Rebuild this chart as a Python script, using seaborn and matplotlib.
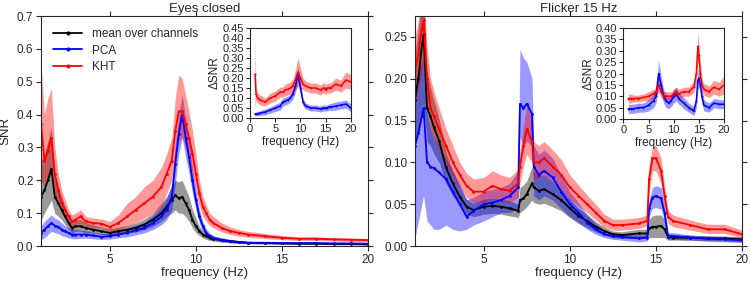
import numpy as np
import pandas as pd
import seaborn as sns
import matplotlib.pyplot as plt

# ---- Eyes closed: main panel ----
freq_ec = [1.0, 1.2, 1.4, 1.6, 1.8, 2.0, 2.2, 2.4, 2.6, 2.8, 3.0, 3.3, 3.6, 4.0, 4.5, 5.0, 5.5, 6.0,
           6.5, 7.0, 7.5, 8.0, 8.3, 8.6, 8.8, 9.0, 9.2, 9.4, 9.6, 9.8, 10.0, 10.2, 10.4, 10.6, 10.8,
           11.0, 11.5, 12.0, 12.5, 13.0, 14.0, 15.0, 16.0, 17.0, 18.0, 19.0, 20.0]
mean_ec = [0.15, 0.17, 0.2, 0.235, 0.15, 0.13, 0.11, 0.09, 0.07, 0.055, 0.06, 0.06, 0.055, 0.05, 0.045,
           0.04, 0.045, 0.05, 0.055, 0.065, 0.08, 0.1, 0.12, 0.14, 0.155, 0.145, 0.15, 0.13, 0.11, 0.08,
           0.06, 0.045, 0.035, 0.03, 0.025, 0.022, 0.018, 0.015, 0.012, 0.01, 0.009, 0.008, 0.007, 0.007,
           0.006, 0.006, 0.005]
mean_ec_lo = [0.08, 0.1, 0.12, 0.14, 0.1, 0.09, 0.08, 0.065, 0.05, 0.04, 0.045, 0.045, 0.04, 0.04, 0.035,
              0.03, 0.035, 0.04, 0.042, 0.05, 0.06, 0.075, 0.09, 0.1, 0.11, 0.1, 0.1, 0.09, 0.075, 0.055,
              0.04, 0.032, 0.025, 0.02, 0.017, 0.015, 0.012, 0.01, 0.008, 0.007, 0.006, 0.005, 0.005,
              0.005, 0.004, 0.004, 0.003]
mean_ec_hi = [0.26, 0.28, 0.32, 0.36, 0.22, 0.18, 0.15, 0.12, 0.095, 0.075, 0.08, 0.08, 0.072, 0.065, 0.058,
              0.052, 0.058, 0.062, 0.07, 0.082, 0.1, 0.13, 0.15, 0.18, 0.2, 0.195, 0.2, 0.175, 0.15, 0.11,
              0.085, 0.06, 0.048, 0.04, 0.035, 0.03, 0.025, 0.02, 0.017, 0.014, 0.012, 0.011, 0.01, 0.01,
              0.009, 0.009, 0.008]
pca_ec = [0.04, 0.05, 0.06, 0.07, 0.062, 0.058, 0.05, 0.045, 0.04, 0.035, 0.035, 0.035, 0.035, 0.032, 0.028,
          0.03, 0.035, 0.04, 0.048, 0.055, 0.07, 0.09, 0.11, 0.15, 0.25, 0.34, 0.4, 0.33, 0.27, 0.2, 0.14,
          0.09, 0.06, 0.04, 0.03, 0.024, 0.018, 0.014, 0.012, 0.01, 0.01, 0.009, 0.009, 0.009, 0.008,
          0.008, 0.007]
pca_ec_lo = [0.02, 0.025, 0.035, 0.045, 0.04, 0.038, 0.032, 0.028, 0.025, 0.022, 0.022, 0.023, 0.024, 0.022,
             0.02, 0.021, 0.025, 0.028, 0.034, 0.04, 0.05, 0.065, 0.08, 0.11, 0.19, 0.28, 0.33, 0.27, 0.22,
             0.16, 0.11, 0.07, 0.045, 0.03, 0.022, 0.018, 0.013, 0.01, 0.008, 0.007, 0.007, 0.006, 0.006,
             0.006, 0.005, 0.005, 0.004]
pca_ec_hi = [0.06, 0.075, 0.085, 0.095, 0.085, 0.08, 0.07, 0.062, 0.055, 0.05, 0.05, 0.048, 0.047, 0.043,
             0.038, 0.04, 0.046, 0.053, 0.064, 0.072, 0.092, 0.12, 0.145, 0.19, 0.31, 0.4, 0.46, 0.39, 0.32,
             0.24, 0.17, 0.11, 0.075, 0.052, 0.04, 0.032, 0.024, 0.019, 0.016, 0.014, 0.013, 0.012, 0.012,
             0.012, 0.011, 0.011, 0.01]
kht_ec = [0.37, 0.26, 0.29, 0.33, 0.22, 0.17, 0.13, 0.11, 0.09, 0.075, 0.08, 0.09, 0.075, 0.07, 0.068, 0.058,
          0.07, 0.09, 0.11, 0.13, 0.15, 0.18, 0.22, 0.26, 0.35, 0.41, 0.41, 0.37, 0.33, 0.28, 0.22, 0.16,
          0.12, 0.1, 0.08, 0.07, 0.055, 0.045, 0.04, 0.035, 0.03, 0.025, 0.022, 0.022, 0.02, 0.019, 0.018]
kht_ec_lo = [0.2, 0.18, 0.2, 0.22, 0.16, 0.13, 0.1, 0.085, 0.07, 0.06, 0.062, 0.07, 0.06, 0.055, 0.055, 0.045,
             0.05, 0.06, 0.07, 0.085, 0.1, 0.12, 0.16, 0.2, 0.27, 0.32, 0.33, 0.3, 0.26, 0.22, 0.17, 0.12,
             0.09, 0.075, 0.062, 0.055, 0.043, 0.035, 0.03, 0.027, 0.023, 0.019, 0.017, 0.017, 0.015,
             0.014, 0.013]
kht_ec_hi = [0.55, 0.4, 0.45, 0.48, 0.3, 0.22, 0.17, 0.14, 0.11, 0.095, 0.1, 0.11, 0.09, 0.085, 0.082, 0.075,
             0.095, 0.13, 0.15, 0.18, 0.2, 0.24, 0.28, 0.33, 0.45, 0.52, 0.51, 0.46, 0.41, 0.35, 0.28, 0.2,
             0.15, 0.125, 0.1, 0.09, 0.07, 0.058, 0.05, 0.045, 0.038, 0.032, 0.028, 0.028, 0.026, 0.025,
             0.023]

# ---- Flicker 15 Hz: main panel ----
freq_fl = [1.0, 1.2, 1.4, 1.5, 1.7, 1.9, 2.1, 2.4, 2.8, 3.2, 3.6, 4.0, 4.4, 5.0, 5.5, 6.0, 6.5, 7.0, 7.1,
           7.3, 7.5, 7.8, 7.9, 8.2, 8.5, 9.0, 9.5, 10.0, 10.5, 11.0, 11.5, 12.0, 12.5, 13.0, 14.0, 14.5,
           14.6, 14.8, 15.0, 15.3, 15.5, 15.7, 16.0, 17.0, 18.0, 19.0, 20.0]
mean_fl = [0.175, 0.2, 0.24, 0.253, 0.165, 0.155, 0.142, 0.126, 0.094, 0.075, 0.059, 0.047, 0.043, 0.047,
           0.048, 0.047, 0.045, 0.042, 0.055, 0.057, 0.062, 0.075, 0.07, 0.066, 0.068, 0.062, 0.055, 0.045,
           0.036, 0.03, 0.023, 0.018, 0.014, 0.013, 0.015, 0.015, 0.021, 0.023, 0.023, 0.024, 0.02, 0.011,
           0.01, 0.01, 0.009, 0.009, 0.008]
mean_fl_lo = [0.12, 0.14, 0.16, 0.17, 0.125, 0.12, 0.11, 0.1, 0.075, 0.06, 0.048, 0.038, 0.035, 0.038,
              0.039, 0.038, 0.036, 0.034, 0.04, 0.043, 0.047, 0.055, 0.052, 0.05, 0.051, 0.047, 0.042,
              0.034, 0.027, 0.022, 0.017, 0.013, 0.01, 0.009, 0.01, 0.01, 0.01, 0.01, 0.01, 0.01, 0.01,
              0.007, 0.007, 0.007, 0.006, 0.006, 0.005]
mean_fl_hi = [0.23, 0.26, 0.3, 0.31, 0.21, 0.19, 0.175, 0.152, 0.113, 0.09, 0.07, 0.056, 0.051, 0.056,
              0.057, 0.056, 0.054, 0.05, 0.07, 0.073, 0.078, 0.095, 0.09, 0.083, 0.085, 0.077, 0.068,
              0.056, 0.045, 0.038, 0.029, 0.023, 0.018, 0.017, 0.02, 0.02, 0.032, 0.036, 0.037, 0.037,
              0.032, 0.015, 0.013, 0.013, 0.012, 0.012, 0.011]
pca_fl = [0.12, 0.135, 0.155, 0.165, 0.1, 0.095, 0.093, 0.088, 0.08, 0.065, 0.05, 0.035, 0.042, 0.05, 0.052,
          0.055, 0.06, 0.07, 0.17, 0.165, 0.17, 0.158, 0.095, 0.085, 0.09, 0.082, 0.065, 0.05, 0.04, 0.028,
          0.02, 0.014, 0.012, 0.011, 0.009, 0.01, 0.045, 0.058, 0.06, 0.057, 0.04, 0.012, 0.012, 0.01,
          0.009, 0.008, 0.007]
pca_fl_lo = [0.01, 0.03, 0.05, 0.06, 0.03, 0.025, 0.02, 0.02, 0.025, 0.02, 0.018, 0.02, 0.025, 0.03, 0.035,
             0.04, 0.04, 0.045, 0.13, 0.12, 0.125, 0.12, 0.06, 0.055, 0.06, 0.055, 0.045, 0.035, 0.028,
             0.02, 0.014, 0.01, 0.008, 0.007, 0.005, 0.006, 0.035, 0.045, 0.046, 0.044, 0.03, 0.008,
             0.008, 0.007, 0.006, 0.005, 0.004]
pca_fl_hi = [0.2, 0.21, 0.22, 0.23, 0.16, 0.14, 0.13, 0.12, 0.105, 0.09, 0.075, 0.055, 0.058, 0.065, 0.068,
             0.07, 0.075, 0.09, 0.235, 0.225, 0.22, 0.2, 0.12, 0.11, 0.115, 0.105, 0.085, 0.065, 0.052,
             0.037, 0.027, 0.019, 0.016, 0.015, 0.013, 0.014, 0.055, 0.07, 0.072, 0.07, 0.05, 0.016,
             0.016, 0.013, 0.012, 0.011, 0.01]
kht_fl = [0.21, 0.23, 0.26, 0.27, 0.2, 0.165, 0.155, 0.14, 0.12, 0.1, 0.085, 0.072, 0.065, 0.065, 0.072,
          0.068, 0.066, 0.075, 0.095, 0.12, 0.14, 0.125, 0.1, 0.1, 0.105, 0.095, 0.085, 0.07, 0.06, 0.05,
          0.04, 0.03, 0.025, 0.025, 0.027, 0.03, 0.08, 0.105, 0.105, 0.09, 0.06, 0.035, 0.03, 0.025, 0.02,
          0.02, 0.014]
kht_fl_lo = [0.17, 0.19, 0.21, 0.22, 0.17, 0.14, 0.13, 0.115, 0.1, 0.083, 0.07, 0.058, 0.052, 0.052, 0.057,
             0.054, 0.052, 0.058, 0.075, 0.095, 0.11, 0.1, 0.08, 0.082, 0.085, 0.077, 0.068, 0.056, 0.048,
             0.04, 0.031, 0.023, 0.019, 0.019, 0.021, 0.024, 0.065, 0.09, 0.09, 0.075, 0.048, 0.027,
             0.023, 0.019, 0.015, 0.015, 0.01]
kht_fl_hi = [0.25, 0.27, 0.3, 0.3, 0.24, 0.2, 0.185, 0.165, 0.14, 0.12, 0.1, 0.087, 0.08, 0.082, 0.09,
             0.085, 0.082, 0.092, 0.115, 0.145, 0.17, 0.15, 0.125, 0.12, 0.125, 0.115, 0.103, 0.085, 0.073,
             0.061, 0.05, 0.038, 0.032, 0.032, 0.034, 0.037, 0.095, 0.12, 0.12, 0.105, 0.072, 0.043,
             0.037, 0.031, 0.026, 0.026, 0.019]

# ---- insets (delta SNR) ----
freq_in = [1.0, 1.2, 1.5, 2.0, 3.0, 4.0, 5.0, 6.0, 6.5, 7.0, 7.5, 8.0, 8.5, 9.0, 9.5, 10.0, 10.5, 11.0,
           12.0, 13.0, 14.0, 14.5, 14.8, 15.0, 15.3, 15.6, 16.0, 17.0, 18.0, 19.0, 20.0]
d_kht_ec = [0.22, 0.12, 0.1, 0.09, 0.08, 0.1, 0.11, 0.13, 0.13, 0.14, 0.145, 0.15, 0.16, 0.19, 0.23, 0.2,
            0.17, 0.16, 0.15, 0.15, 0.14, 0.15, 0.15, 0.14, 0.15, 0.15, 0.15, 0.17, 0.16, 0.19, 0.18]
d_kht_ec_sd = [0.18, 0.03, 0.025, 0.025, 0.02, 0.025, 0.025, 0.025, 0.025, 0.03, 0.03, 0.03, 0.035, 0.05,
               0.07, 0.05, 0.03, 0.025, 0.025, 0.025, 0.025, 0.025, 0.025, 0.025, 0.025, 0.025, 0.025,
               0.03, 0.03, 0.04, 0.035]
d_pca_ec = [0.02, 0.02, 0.022, 0.025, 0.03, 0.04, 0.05, 0.06, 0.08, 0.085, 0.09, 0.1, 0.12, 0.16, 0.22,
            0.15, 0.08, 0.06, 0.05, 0.05, 0.045, 0.05, 0.05, 0.05, 0.05, 0.055, 0.055, 0.06, 0.065, 0.07,
            0.05]
d_pca_ec_sd = [0.01, 0.01, 0.01, 0.012, 0.015, 0.015, 0.018, 0.02, 0.02, 0.02, 0.02, 0.02, 0.025, 0.03,
               0.04, 0.03, 0.02, 0.015, 0.015, 0.015, 0.015, 0.015, 0.015, 0.015, 0.015, 0.015, 0.018,
               0.02, 0.02, 0.02, 0.02]
d_kht_fl = [0.09, 0.09, 0.09, 0.09, 0.09, 0.095, 0.1, 0.11, 0.12, 0.15, 0.12, 0.1, 0.1, 0.1, 0.1, 0.11,
            0.12, 0.11, 0.12, 0.12, 0.14, 0.2, 0.32, 0.28, 0.2, 0.15, 0.13, 0.12, 0.14, 0.13, 0.15]
d_kht_fl_sd = [0.02, 0.02, 0.02, 0.015, 0.015, 0.015, 0.02, 0.02, 0.02, 0.03, 0.025, 0.02, 0.02, 0.02, 0.02,
               0.02, 0.02, 0.02, 0.02, 0.02, 0.025, 0.04, 0.06, 0.05, 0.04, 0.03, 0.025, 0.025, 0.03, 0.03,
               0.04]
d_pca_fl = [0.045, 0.045, 0.045, 0.045, 0.05, 0.05, 0.06, 0.08, 0.1, 0.2, 0.15, 0.1, 0.08, 0.07, 0.08, 0.1,
            0.11, 0.09, 0.07, 0.05, 0.035, 0.08, 0.17, 0.18, 0.15, 0.1, 0.06, 0.05, 0.07, 0.065, 0.065]
d_pca_fl_sd = [0.02, 0.02, 0.02, 0.02, 0.02, 0.02, 0.025, 0.03, 0.03, 0.06, 0.04, 0.03, 0.03, 0.025, 0.025,
               0.03, 0.03, 0.025, 0.025, 0.02, 0.02, 0.03, 0.04, 0.04, 0.035, 0.03, 0.025, 0.02, 0.02,
               0.02, 0.02]

sns.set_style('ticks')
plt.rcParams['font.family'] = ['Liberation Sans', 'DejaVu Sans']
plt.rcParams['axes.edgecolor'] = '0.15'

fig = plt.figure(figsize=(7.5, 2.83), dpi=100)
ax1 = fig.add_axes([0.0547, 0.1307, 0.436, 0.8127])
ax2 = fig.add_axes([0.5533, 0.1307, 0.436, 0.8127])
in1 = fig.add_axes([0.3333, 0.583, 0.1347, 0.318])
in2 = fig.add_axes([0.8311, 0.5795, 0.1343, 0.3215])

colors = {'mean over channels': 'k', 'PCA': '#0000ff', 'KHT': '#ff0000'}


def draw_main(ax, freq, series):
    rows = []
    for name, (m, lo, hi) in series.items():
        ax.fill_between(freq, lo, hi, color=colors[name], alpha=0.4, linewidth=0)
        rows.append(pd.DataFrame({'f': freq, 'snr': m, 'method': name}))
    df = pd.concat(rows)
    sns.lineplot(data=df, x='f', y='snr', hue='method', palette=colors, marker='.',
                 markersize=4, markeredgewidth=0, linewidth=1.3, ax=ax, legend=False)


def draw_inset(ax, freq, series, ymax, yticks):
    rows = []
    for name, (m, sd) in series.items():
        m = np.array(m)
        sd = np.array(sd)
        ax.fill_between(freq, m - sd, m + sd, color=colors[name], alpha=0.4, linewidth=0)
        rows.append(pd.DataFrame({'f': freq, 'd': m, 'method': name}))
    df = pd.concat(rows)
    sns.lineplot(data=df, x='f', y='d', hue='method', palette=colors, marker='.',
                 markersize=2.5, markeredgewidth=0, linewidth=1.1, ax=ax, legend=False)
    ax.set_xlim(0, 20)
    ax.set_ylim(0, ymax)
    ax.set_xticks([0, 5, 10, 15, 20])
    ax.set_yticks(yticks)
    ax.set_yticklabels(['%.2f' % t for t in yticks])
    ax.set_xlabel('frequency (Hz)', fontsize=8.5, labelpad=1)
    ax.set_ylabel('ΔSNR', fontsize=8.5, labelpad=1)
    ax.tick_params(labelsize=8, length=3, pad=1.5, direction='out')


draw_main(ax1, freq_ec, {'mean over channels': (mean_ec, mean_ec_lo, mean_ec_hi),
                         'PCA': (pca_ec, pca_ec_lo, pca_ec_hi),
                         'KHT': (kht_ec, kht_ec_lo, kht_ec_hi)})
draw_main(ax2, freq_fl, {'mean over channels': (mean_fl, mean_fl_lo, mean_fl_hi),
                         'PCA': (pca_fl, pca_fl_lo, pca_fl_hi),
                         'KHT': (kht_fl, kht_fl_lo, kht_fl_hi)})

ax1.set_ylim(0, 0.7)
ax1.set_yticks(np.arange(0, 0.71, 0.1))
ax1.set_yticklabels(['%.1f' % t for t in np.arange(0, 0.71, 0.1)])
ax1.set_ylabel('SNR', fontsize=9.5, labelpad=4)
ax1.set_title('Eyes closed', fontsize=9.5, pad=3)

ax2.set_ylim(0, 0.275)
ax2.set_yticks(np.arange(0, 0.26, 0.05))
ax2.set_yticklabels(['%.2f' % t for t in np.arange(0, 0.26, 0.05)])
ax2.set_ylabel('')
ax2.set_title('Flicker 15 Hz', fontsize=9.5, pad=3)

for ax in (ax1, ax2):
    ax.set_xlim(1, 20)
    ax.set_xticks([5, 10, 15, 20])
    ax.set_xlabel('frequency (Hz)', fontsize=9.5, labelpad=1)
    ax.tick_params(labelsize=8.5, length=3.5, pad=2, direction='out', top=True, right=True)

handles = [plt.Line2D([], [], color=c, marker='.', markersize=4, linewidth=1.3) for c in colors.values()]
ax1.legend(handles, list(colors.keys()), loc='upper left', frameon=False, fontsize=8.5,
           handlelength=2.5, borderaxespad=0.6, labelspacing=0.4, bbox_to_anchor=(0.0, 1.0))

draw_inset(in1, freq_in, {'PCA': (d_pca_ec, d_pca_ec_sd), 'KHT': (d_kht_ec, d_kht_ec_sd)},
           0.45, [0, 0.05, 0.1, 0.15, 0.2, 0.25, 0.3, 0.35, 0.4, 0.45])
draw_inset(in2, freq_in, {'PCA': (d_pca_fl, d_pca_fl_sd), 'KHT': (d_kht_fl, d_kht_fl_sd)},
           0.4, [0, 0.05, 0.1, 0.15, 0.2, 0.25, 0.3, 0.35, 0.4])

fig.savefig('out.png', dpi=100)
